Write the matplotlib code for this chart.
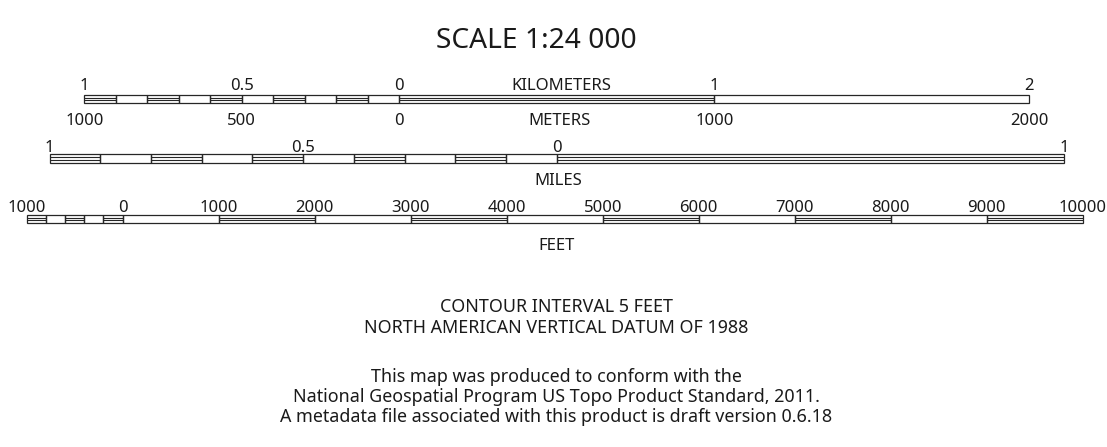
import matplotlib
matplotlib.use("Agg")
import matplotlib.pyplot as plt
import numpy as np
from matplotlib.transforms import blended_transform_factory as btf

# ---------------- data ----------------
title = "SCALE 1:24 000"

km_edges = [-1.0, -0.9, -0.8, -0.7, -0.6, -0.5, -0.4, -0.3, -0.2, -0.1, 0.0, 1.0, 2.0]
km_filled = [1, 0, 1, 0, 1, 0, 1, 0, 1, 0, 1, 0]
km_label_pos = [-1.0, -0.5, 0.0, 1.0, 2.0]
km_labels = ["1", "0.5", "0", "1", "2"]
m_labels = ["1000", "500", "0", "1000", "2000"]
km_unit = "KILOMETERS"
m_unit = "METERS"

mi_edges = [-1.0, -0.9, -0.8, -0.7, -0.6, -0.5, -0.4, -0.3, -0.2, -0.1, 0.0, 1.0]
mi_filled = [1, 0, 1, 0, 1, 0, 1, 0, 1, 0, 1]
mi_label_pos = [-1.0, -0.5, 0.0, 1.0]
mi_labels = ["1", "0.5", "0", "1"]
mi_unit = "MILES"

ft_edges = [-1000, -800, -600, -400, -200, 0, 1000, 2000, 3000, 4000, 5000,
            6000, 7000, 8000, 9000, 10000]
ft_filled = [1, 0, 1, 0, 1, 0, 1, 0, 1, 0, 1, 0, 1, 0, 1]
ft_label_pos = [-1000, 0, 1000, 2000, 3000, 4000, 5000, 6000, 7000, 8000, 9000, 10000]
ft_labels = ["1000", "0", "1000", "2000", "3000", "4000", "5000", "6000",
             "7000", "8000", "9000", "10000"]
ft_unit = "FEET"

notes_1 = ["CONTOUR INTERVAL 5 FEET", "NORTH AMERICAN VERTICAL DATUM OF 1988"]
notes_2 = ["This map was produced to conform with the",
           "National Geospatial Program US Topo Product Standard, 2011.",
           "A metadata file associated with this product is draft version 0.6.18"]

# ---------------- layout ----------------
W, H, DPI = 1107, 447, 100
FAM = ["Noto Sans", "DejaVu Sans"]
LINE = "#262626"
TXT = "#1a1a1a"

fig = plt.figure(figsize=(W / DPI, H / DPI), dpi=DPI)
fig.patch.set_facecolor("white")
renderer = fig.canvas.get_renderer()


def fit_size(s, target_px):
    t = fig.text(0, 0, s, fontsize=10, family=FAM)
    w = t.get_window_extent(renderer).width
    t.remove()
    return 10.0 * target_px / w


def fy(py):
    return 1.0 - py / H


title_fs = fit_size(title, 200)
lab_fs = fit_size("9000", 38)
note_fs = fit_size(notes_2[0], 370)


def scalebar(top_px, bot_px, zero_px, ppu, edges, filled):
    ax = fig.add_axes([0, fy(bot_px), 1, (bot_px - top_px) / H])
    ax.set_xlim((0 - zero_px) / ppu, (W - zero_px) / ppu)
    ax.set_ylim(0, 1)
    ax.axis("off")
    e = np.asarray(edges, dtype=float)
    f = np.asarray(filled, dtype=bool)
    ax.bar(e[:-1], 1.0, width=np.diff(e), bottom=0, align="edge", fill=False,
           edgecolor=LINE, linewidth=0.9, clip_on=False)
    x0 = e[:-1][f]
    x1 = e[1:][f]
    for yy in (0.36, 0.64):
        ax.hlines(np.full(x0.size, yy), x0, x1, color=LINE, linewidth=0.8,
                  clip_on=False)
    return ax


# title
fig.text(536.7 / W, fy(48), title, ha="center", va="baseline", fontsize=title_fs,
         family=FAM, color=TXT)

# kilometers / meters
ax_km = scalebar(95.3, 103.3, 399.3, 315.0, km_edges, km_filled)
tr = btf(ax_km.transData, fig.transFigure)
for p, s in zip(km_label_pos, km_labels):
    ax_km.text(p, fy(89.5), s, transform=tr, ha="center", va="baseline",
               fontsize=lab_fs, family=FAM, color=TXT)
for p, s in zip(km_label_pos, m_labels):
    ax_km.text(p, fy(125), s, transform=tr, ha="center", va="baseline",
               fontsize=lab_fs, family=FAM, color=TXT)
fig.text(561 / W, fy(89.5), km_unit, ha="center", va="baseline",
         fontsize=lab_fs, family=FAM, color=TXT)
fig.text(559 / W, fy(125), m_unit, ha="center", va="baseline",
         fontsize=lab_fs, family=FAM, color=TXT)

# miles
ax_mi = scalebar(154.3, 162.5, 556.7, 507.2, mi_edges, mi_filled)
tr = btf(ax_mi.transData, fig.transFigure)
for p, s in zip(mi_label_pos, mi_labels):
    ax_mi.text(p, fy(151.7), s, transform=tr, ha="center", va="baseline",
               fontsize=lab_fs, family=FAM, color=TXT)
fig.text(558 / W, fy(185), mi_unit, ha="center", va="baseline",
         fontsize=lab_fs, family=FAM, color=TXT)

# feet
ax_ft = scalebar(214.8, 222.7, 122.7, 0.0960, ft_edges, ft_filled)
tr = btf(ax_ft.transData, fig.transFigure)
for p, s in zip(ft_label_pos, ft_labels):
    ax_ft.text(p, fy(211.7), s, transform=tr, ha="center", va="baseline",
               fontsize=lab_fs, family=FAM, color=TXT)
fig.text(557 / W, fy(250), ft_unit, ha="center", va="baseline",
         fontsize=lab_fs, family=FAM, color=TXT)

# notes
for s, b in zip(notes_1, [312, 333]):
    fig.text(556 / W, fy(b), s, ha="center", va="baseline", fontsize=note_fs,
             family=FAM, color=TXT)
for s, b in zip(notes_2, [382, 402, 422]):
    fig.text(556 / W, fy(b), s, ha="center", va="baseline", fontsize=note_fs,
             family=FAM, color=TXT)

fig.savefig("out.png", dpi=DPI, facecolor="white")
